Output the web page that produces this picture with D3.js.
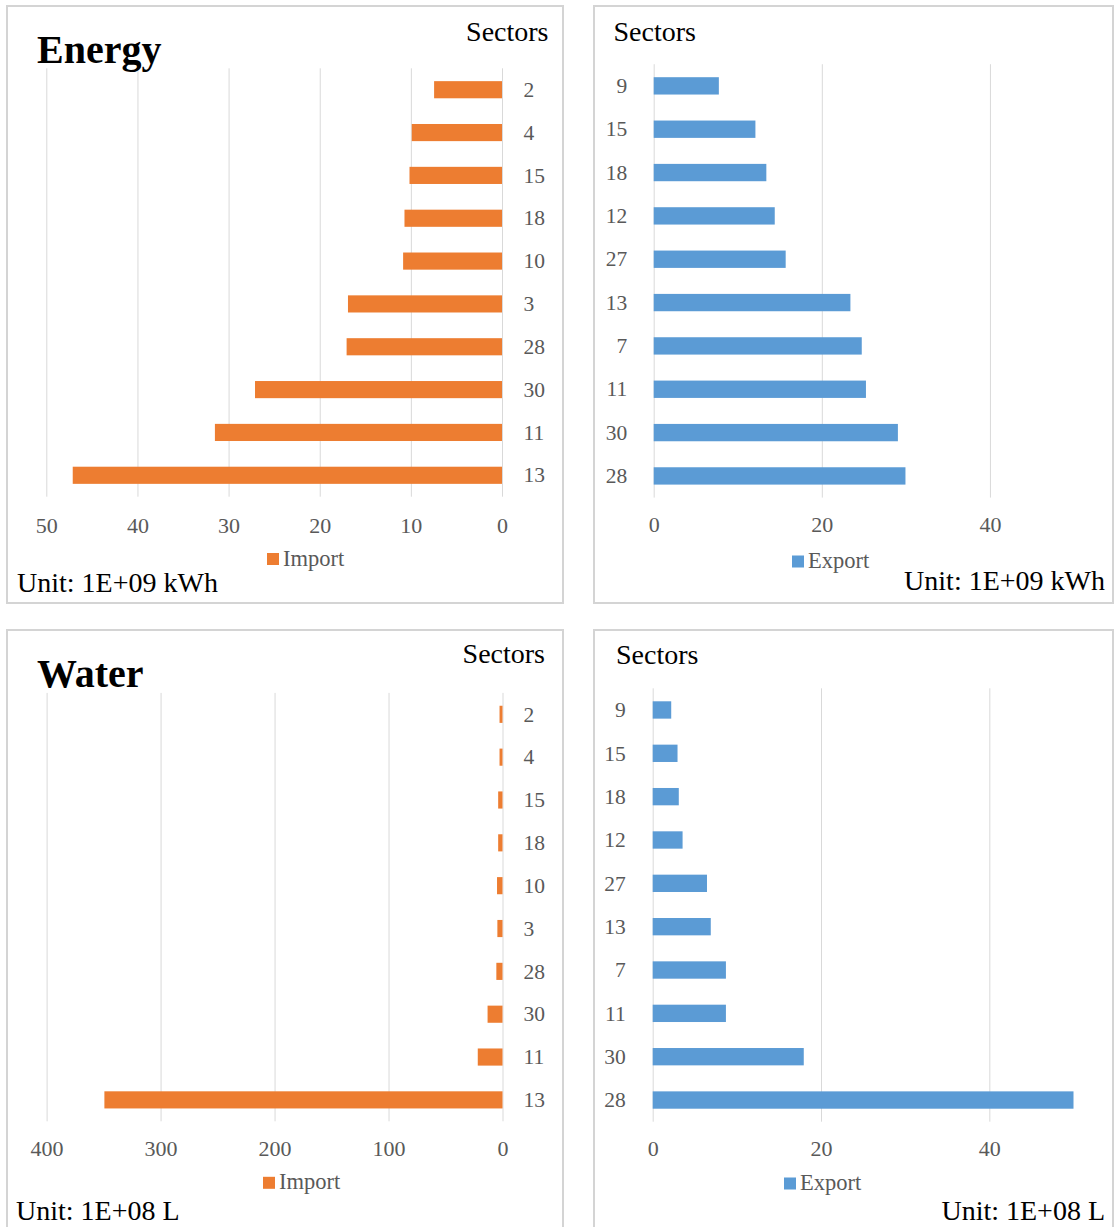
<!DOCTYPE html>
<html>
<head>
<meta charset="utf-8">
<script src="https://cdn.jsdelivr.net/npm/d3@7"></script>
<style>
  html, body { margin: 0; padding: 0; background: #fff; }
  svg { display: block; }
  text { font-family: "Liberation Serif", "Times New Roman", serif; }
</style>
</head>
<body>
<svg id="chart" width="1115" height="1227"></svg>
<script>
// ---------- DATA ----------
const energyImportSectors = ["2", "4", "15", "18", "10", "3", "28", "30", "11", "13"];
const energyImportValues  = [7.45, 9.9, 10.15, 10.7, 10.85, 16.9, 17.05, 27.1, 31.5, 47.1];
const energyExportSectors = ["9", "15", "18", "12", "27", "13", "7", "11", "30", "28"];
const energyExportValues  = [7.75, 12.1, 13.4, 14.4, 15.7, 23.4, 24.75, 25.25, 29.05, 29.95];

const waterImportSectors = ["2", "4", "15", "18", "10", "3", "28", "30", "11", "13"];
const waterImportValues  = [2.6, 2.6, 3.8, 3.8, 4.8, 4.5, 5.4, 13.1, 21.7, 349.3];
const waterExportSectors = ["9", "15", "18", "12", "27", "13", "7", "11", "30", "28"];
const waterExportValues  = [2.2, 2.95, 3.1, 3.55, 6.45, 6.9, 8.7, 8.7, 17.95, 50.0];

const energyImportTicks = [0, 10, 20, 30, 40, 50];
const energyExportTicks = [0, 20, 40];
const waterImportTicks  = [0, 100, 200, 300, 400];
const waterExportTicks  = [0, 20, 40];

const energyUnit = "Unit: 1E+09 kWh";
const waterUnit  = "Unit: 1E+08 L";

const ORANGE = "#ED7D31";
const BLUE = "#5B9BD5";
const GREY_TXT = "#595959";
const GRID = "#d9d9d9";

const svg = d3.select("#chart");

function drawPanel(cfg) {
  const g = svg.append("g");
  // panel border
  g.append("rect")
    .attr("x", cfg.box[0]).attr("y", cfg.box[1])
    .attr("width", cfg.box[2] - cfg.box[0]).attr("height", cfg.box[3] - cfg.box[1])
    .attr("fill", "#fff").attr("stroke", "#d4d4d4").attr("stroke-width", 2);

  const x = d3.scaleLinear().domain(cfg.domain).range(cfg.xRange);
  const y = d3.scaleBand().domain(cfg.cats).range(cfg.yRange).paddingInner(0.6).paddingOuter(0.3);
  const top = cfg.yRange[0], bottom = cfg.yRange[1];

  // gridlines
  const grid = g.append("g").attr("transform", `translate(0,${bottom})`)
    .call(d3.axisBottom(x).tickValues(cfg.ticks).tickSize(-(bottom - top)).tickFormat(""));
  grid.select(".domain").remove();
  grid.selectAll("line").attr("stroke", GRID).attr("stroke-width", 1);

  // bars
  const x0 = x(0);
  g.append("g").selectAll("rect").data(cfg.vals).join("rect")
    .attr("x", d => Math.min(x(d), x0))
    .attr("width", d => Math.abs(x(d) - x0))
    .attr("y", (d, i) => y(cfg.cats[i]))
    .attr("height", y.bandwidth())
    .attr("fill", cfg.color);

  // value axis labels
  const xa = g.append("g").attr("transform", `translate(0,${bottom})`)
    .call(d3.axisBottom(x).tickValues(cfg.ticks).tickSize(0).tickFormat(d3.format("d")));
  xa.select(".domain").remove();
  xa.selectAll("text")
    .attr("y", cfg.tickBaseline - bottom).attr("dy", 0)
    .attr("fill", GREY_TXT).style("font-size", "22px")
    .style("font-family", '"Liberation Serif", serif');

  // category axis
  const ya = g.append("g").attr("transform", `translate(${x0},0)`)
    .call((cfg.catSide === "right" ? d3.axisRight(y) : d3.axisLeft(y)).tickSize(0).tickPadding(cfg.catPad));
  ya.select(".domain").remove();
  ya.selectAll("text")
    .attr("dy", 0).attr("y", 7.2)
    .attr("fill", GREY_TXT).style("font-size", "21.5px")
    .style("font-family", '"Liberation Serif", serif');

  // "Sectors"
  g.append("text").attr("x", cfg.sectors[0]).attr("y", cfg.sectors[1])
    .attr("text-anchor", cfg.sectors[2]).attr("fill", "#000")
    .style("font-size", "28px").text("Sectors");

  // title
  if (cfg.title) {
    g.append("text").attr("x", cfg.title[1]).attr("y", cfg.title[2])
      .attr("fill", "#000").style("font-size", "40px").style("font-weight", "bold")
      .text(cfg.title[0]);
  }

  // legend
  g.append("rect").attr("x", cfg.legend[0]).attr("y", cfg.legend[1] - 12.5)
    .attr("width", 12).attr("height", 12).attr("fill", cfg.color);
  g.append("text").attr("x", cfg.legend[0] + 16).attr("y", cfg.legend[1])
    .attr("fill", GREY_TXT).style("font-size", "22.5px").text(cfg.legendLabel);

  // unit
  g.append("text").attr("x", cfg.unit[0]).attr("y", cfg.unit[1])
    .attr("text-anchor", cfg.unit[2]).attr("fill", "#000")
    .style("font-size", "28px").text(cfg.unitLabel);
}

drawPanel({
  box: [7, 6, 563, 603],
  cats: energyImportSectors, vals: energyImportValues, ticks: energyImportTicks,
  domain: [0, 50], xRange: [502, 46.3], yRange: [68.3, 496.7],
  color: ORANGE, catSide: "right", catPad: 21.5, tickBaseline: 533,
  sectors: [548.5, 40.7, "end"], title: ["Energy", 37, 62.7],
  legend: [267, 565.5], legendLabel: "Import",
  unit: [17, 591.5, "start"], unitLabel: energyUnit
});

drawPanel({
  box: [594, 6, 1113, 603],
  cats: energyExportSectors, vals: energyExportValues, ticks: energyExportTicks,
  domain: [0, 50], xRange: [653.7, 1074], yRange: [64.2, 497.6],
  color: BLUE, catSide: "left", catPad: 26.4, tickBaseline: 532.5,
  sectors: [613.5, 40.7, "start"], title: null,
  legend: [792, 568], legendLabel: "Export",
  unit: [1105, 590, "end"], unitLabel: energyUnit
});

drawPanel({
  box: [7, 630, 563, 1228],
  cats: waterImportSectors, vals: waterImportValues, ticks: waterImportTicks,
  domain: [0, 400], xRange: [502.5, 46.6], yRange: [692.9, 1121.3],
  color: ORANGE, catSide: "right", catPad: 21, tickBaseline: 1156.5,
  sectors: [545, 663.3, "end"], title: ["Water", 37, 686.7],
  legend: [263, 1189.3], legendLabel: "Import",
  unit: [16, 1219.5, "start"], unitLabel: waterUnit
});

drawPanel({
  box: [594, 630, 1113, 1228],
  cats: waterExportSectors, vals: waterExportValues, ticks: waterExportTicks,
  domain: [0, 50], xRange: [652.7, 1073.5], yRange: [688.3, 1121.7],
  color: BLUE, catSide: "left", catPad: 27, tickBaseline: 1156,
  sectors: [616, 664, "start"], title: null,
  legend: [784, 1190], legendLabel: "Export",
  unit: [1105, 1219.5, "end"], unitLabel: waterUnit
});
</script>
</body>
</html>
